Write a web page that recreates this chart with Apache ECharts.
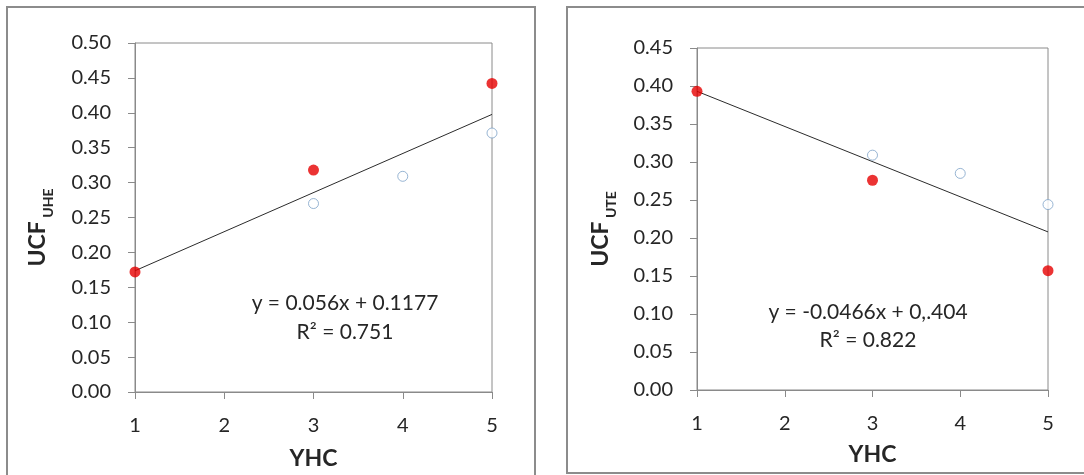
<!DOCTYPE html>
<html>
<head>
<meta charset="utf-8">
<script src="https://cdn.jsdelivr.net/npm/echarts@6/dist/echarts.min.js"></script>
<style>
html,body{margin:0;padding:0;background:#fff;}
#c{width:1084px;height:475px;}
</style>
</head>
<body>
<div id="c"></div>
<script>
// ---- Data ----
const xTicks = [1, 2, 3, 4, 5];

// Left chart (UCF UHE)
const uheRedX = [1, 3, 5];
const uheRedY = [0.172, 0.318, 0.442];
const uheBlueX = [3, 4, 5];
const uheBlueY = [0.270, 0.309, 0.371];
const uheTrendX = [1, 5];
const uheTrendY = [0.1737, 0.3977];
const uheEq = ['y = 0.056x + 0.1177', 'R² = 0.751'];

// Right chart (UCF UTE)
const uteRedX = [1, 3, 5];
const uteRedY = [0.393, 0.276, 0.157];
const uteBlueX = [3, 4, 5];
const uteBlueY = [0.309, 0.285, 0.244];
const uteTrendX = [1, 5];
const uteTrendY = [0.393, 0.208];
const uteEq = ['y = -0.0466x + 0,.404', 'R² = 0.822'];

const zip = (xs, ys) => xs.map((x, i) => [x, ys[i]]);

const FONT = 'Lato, "Open Sans", sans-serif';
const AX = '#8a8a8a';
const TXT = '#262626';

function xAxisCfg(gi, gap, margin) {
  return {
    gridIndex: gi, type: 'value', min: 1, max: 5, interval: 1,
    name: 'YHC', nameLocation: 'middle', nameGap: gap,
    nameTextStyle: { fontFamily: FONT, fontSize: 23, fontWeight: 'bold', color: TXT },
    axisLine: { show: true, lineStyle: { color: AX, width: 1 } },
    axisTick: { show: true, length: 7, lineStyle: { color: AX } },
    axisLabel: { margin: margin, fontFamily: FONT, fontSize: 20, color: TXT,
      formatter: v => xTicks.includes(v) ? String(v) : '' },
    splitLine: { show: false }
  };
}
function yAxisCfg(gi, max, sub, gap) {
  return {
    gridIndex: gi, type: 'value', min: 0, max: max, interval: 0.05,
    name: '{a|UCF}{b| ' + sub + '}', nameLocation: 'middle', nameRotate: 90, nameGap: gap,
    nameTextStyle: {
      rich: {
        a: { fontFamily: FONT, fontSize: 23, fontWeight: 'bold', color: TXT },
        b: { fontFamily: FONT, fontSize: 14, fontWeight: 'bold', color: TXT, verticalAlign: 'bottom', padding: [0, 20, -6, 0] }
      }
    },
    axisLine: { show: true, lineStyle: { color: AX, width: 1 } },
    axisTick: { show: true, length: 7, lineStyle: { color: AX } },
    axisLabel: { margin: 24, fontFamily: FONT, fontSize: 20, color: TXT, formatter: v => v.toFixed(2) },
    splitLine: { show: false }
  };
}
function redSeries(gi, d) {
  return { type: 'scatter', xAxisIndex: gi, yAxisIndex: gi, data: d, symbolSize: 11,
    itemStyle: { color: '#e60000' }, z: 5 };
}
function blueSeries(gi, d) {
  return { type: 'scatter', xAxisIndex: gi, yAxisIndex: gi, data: d, symbolSize: 10,
    itemStyle: { color: '#fff', borderColor: '#7ea3c8', borderWidth: 1 }, z: 4 };
}
function trendSeries(gi, d) {
  return { type: 'line', xAxisIndex: gi, yAxisIndex: gi, data: d, symbol: 'none',
    lineStyle: { color: '#2b2b2b', width: 1 }, z: 3 };
}
function eqText(x, y, s) {
  return { type: 'text', x: x, y: y, style: { text: s, fontFamily: FONT, fontSize: 21, fill: TXT,
    textAlign: 'center', textVerticalAlign: 'middle' } };
}

const chart = echarts.init(document.getElementById('c'), null, { renderer: 'canvas' });
chart.setOption({
  backgroundColor: '#fff',
  animation: false,
  grid: [
    { left: 135, top: 43, width: 357, height: 349, show: true, borderColor: AX, borderWidth: 1 },
    { left: 697, top: 48, width: 351, height: 342, show: true, borderColor: AX, borderWidth: 1 }
  ],
  xAxis: [xAxisCfg(0, 55, 24), xAxisCfg(1, 53, 24)],
  yAxis: [yAxisCfg(0, 0.5, 'UHE', 86), yAxisCfg(1, 0.45, 'UTE', 85)],
  series: [
    trendSeries(0, zip(uheTrendX, uheTrendY)),
    blueSeries(0, zip(uheBlueX, uheBlueY)),
    redSeries(0, zip(uheRedX, uheRedY)),
    trendSeries(1, zip(uteTrendX, uteTrendY)),
    blueSeries(1, zip(uteBlueX, uteBlueY)),
    redSeries(1, zip(uteRedX, uteRedY))
  ],
  graphic: [
    { type: 'rect', shape: { x: 7, y: 7, width: 528, height: 480 }, style: { fill: 'none', stroke: '#8c8c8c', lineWidth: 2 }, silent: true },
    { type: 'rect', shape: { x: 567, y: 7, width: 530, height: 466 }, style: { fill: 'none', stroke: '#8c8c8c', lineWidth: 2 }, silent: true },
    eqText(345, 303, uheEq[0]),
    eqText(345, 332, uheEq[1]),
    eqText(868, 312, uteEq[0]),
    eqText(868, 340, uteEq[1])
  ]
});
</script>
</body>
</html>
